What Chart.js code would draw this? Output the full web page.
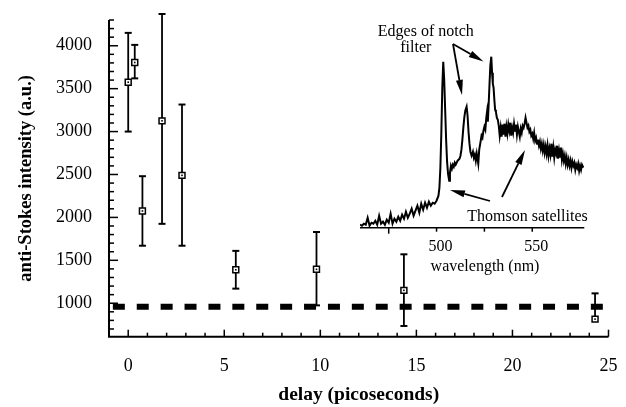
<!DOCTYPE html>
<html><head><meta charset="utf-8">
<script src="https://cdn.jsdelivr.net/npm/chart.js@4.4.0/dist/chart.umd.min.js"></script>
<style>
html,body{margin:0;padding:0;background:#fff;}
#wrap{position:relative;width:626px;height:407px;}
canvas{position:absolute;left:0;top:0;}
</style></head><body>
<div id="wrap"><canvas id="main" width="626" height="407"></canvas><canvas id="inset" width="626" height="407"></canvas></div>
<script>
// ---- main plot data ----
const delayPs   = [0.0, 0.34, 0.74, 1.76, 2.8, 5.6, 9.8, 14.35, 24.3];
const intensity = [3575, 3805, 2075, 3125, 2490, 1390, 1395, 1150, 815];
const errLow    = [3000, 3620, 1670, 1925, 1670, 1170, 975, 735, 815];
const errHigh   = [4150, 4010, 2480, 4370, 3315, 1610, 1830, 1570, 1115];
const backgroundLevel = 960;
const backgroundSpan  = [-0.8, 24.73];
const xTicks = [0, 5, 10, 15, 20, 25];
const yTicks = [1000, 1500, 2000, 2500, 3000, 3500, 4000];

// ---- inset spectrum data (wavelength nm, arbitrary counts) ----
const waveNm = [460,461,462,463,464,465,466,467,468,469,470,471,472,473,474,475,476,477,478,479,480,
481,482,483,484,485,486,487,488,489,490,491,492,493,494,495,496,497,498,499,500,
501,501.5,502,502.5,503,503.5,504,504.5,505,505.5,506,506.6,507,507.5,508,508.5,509,509.5,510,511,512,512.5,513,513.5,514,514.5,515,515.7,
516.2,516.7,517.2,517.7,518.3,519,519.5,520,520.5,521,521.8,522.3,523,523.5,524,524.5,525,525.5,526,526.4,526.8,527.2,527.7,528.1,528.6,
529,529.4,529.8,530.2,530.6,531,531.5,532,532.5,533,533.5,534,534.5,535,535.5,536,536.5,537,537.5,538,538.5,539,539.5,540,540.5,541,541.5,
542,542.5,543,543.5,544,544.5,545,545.5,546,546.5,547,547.5,548,548.5,549,549.5,550,550.5,551,551.5,552,552.5,553,553.5,554,554.5,555,555.5,
556,556.5,557,557.5,558,558.5,559,559.5,560,560.5,561,561.5,562,562.5,563,563.5,564,564.5,565,565.5,566,566.5,567,567.5,568,568.5,569,569.5,
570,570.5,571,571.5,572,572.5,573,573.5,574,574.5,575,575.5,576,576.7];
const specCounts = [3,2,4,3,10,2,5,4,7,3,12,4,6,3,8,5,14,4,9,6,11,
7,13,9,16,10,14,19,12,17,22,15,24,18,25,20,26,22,25,24,27,
32,40,60,95,140,166,148,118,88,66,54,47,55,62,59,63,61,65,63,67,69,72,78,88,100,110,117,121,
112,96,84,76,72,76,70,73,67,74,64,78,86,92,90,97,101,98,110,116,106,122,145,162,171,
155,144,140,128,118,116,110,108,102,92,100,91,103,93,104,91,101,94,103,97,105,92,100,95,104,97,103,
93,101,96,91,99,95,102,100,104,110,105,100,102,96,98,92,94,89,95,87,90,84,88,82,86,79,84,77,
83,75,81,74,82,72,79,73,84,71,80,70,78,74,82,69,77,70,80,68,74,67,72,64,70,63,68,62,
67,60,66,62,65,58,63,60,64,57,62,58,63,60];
const insetTicks  = [475, 500, 525, 550];
const insetLabels = [500, 550];

const SERIF = '"Liberation Serif", "Times New Roman", serif';

function seg(ctx, x1, y1, x2, y2){ ctx.beginPath(); ctx.moveTo(x1,y1); ctx.lineTo(x2,y2); ctx.stroke(); }
function noPad(s){ s.paddingTop = 0; s.paddingBottom = 0; s.paddingLeft = 0; s.paddingRight = 0; }

const mainAxes = {
  id: 'mainAxes',
  beforeDatasetsDraw(chart){
    const {ctx, chartArea: a, scales: {x, y}} = chart;
    ctx.save();
    ctx.strokeStyle = '#000';
    ctx.lineWidth = 2;
    ctx.beginPath(); ctx.moveTo(a.left, a.top); ctx.lineTo(a.left, a.bottom); ctx.lineTo(a.right, a.bottom); ctx.stroke();
    ctx.lineWidth = 1.5;
    for (let v = 700; v <= 4300; v += 100) {
      const py = y.getPixelForValue(v);
      seg(ctx, a.left, py, a.left + (v % 500 === 0 ? 9 : 5), py);
    }
    for (let v = 0; v <= 25; v++) {
      const px = x.getPixelForValue(v);
      seg(ctx, px, a.bottom, px, a.bottom - (v % 5 === 0 ? 7 : 4));
    }
    ctx.restore();
  },
  beforeDatasetDraw(chart, args){
    if (args.index !== 1) return;
    const {ctx, scales: {x, y}} = chart;
    ctx.save();
    ctx.strokeStyle = '#000';
    delayPs.forEach((d, i) => {
      const px = x.getPixelForValue(d);
      const pl = y.getPixelForValue(errLow[i]);
      const ph = y.getPixelForValue(errHigh[i]);
      ctx.lineWidth = 1.8;
      seg(ctx, px, pl, px, ph);
      ctx.lineWidth = 2;
      seg(ctx, px - 3.5, ph, px + 3.5, ph);
      if (errLow[i] < intensity[i]) seg(ctx, px - 3.5, pl, px + 3.5, pl);
    });
    ctx.restore();
  },
  afterDatasetDraw(chart, args){
    if (args.index !== 1) return;
    const {ctx} = chart;
    const meta = chart.getDatasetMeta(1);
    ctx.save();
    ctx.fillStyle = '#000';
    meta.data.forEach(p => ctx.fillRect(p.x - 0.8, p.y - 0.8, 1.6, 1.6));
    ctx.restore();
  }
};

new Chart(document.getElementById('main'), {
  type: 'scatter',
  data: { datasets: [
    { type: 'line', data: backgroundSpan.map(v => ({x: v, y: backgroundLevel})),
      borderColor: '#000', borderWidth: 6, borderDash: [12, 11.9], borderCapStyle: 'butt',
      pointRadius: 0, fill: false, order: 2 },
    { data: delayPs.map((v, i) => ({x: v, y: intensity[i]})),
      pointStyle: 'rect', pointRadius: 4.2, pointBorderWidth: 1.5,
      pointBackgroundColor: '#fff', pointBorderColor: '#000', order: 1 }
  ]},
  options: {
    responsive: false, animation: false, events: [],
    layout: { padding: { left: 0, top: 20, right: 17.5, bottom: 0 } },
    plugins: { legend: { display: false }, tooltip: { enabled: false } },
    scales: {
      x: {
        type: 'linear', min: -1, max: 25,
        grid: { display: false, drawTicks: false }, border: { display: false },
        afterBuildTicks: s => { s.ticks = xTicks.map(v => ({value: v})); },
        afterFit: s => { s.height = 70.3; noPad(s); },
        ticks: { color: '#000', font: { family: SERIF, size: 18 }, padding: 19, maxRotation: 0, autoSkip: false, callback: v => String(v) },
        title: { display: true, text: 'delay (picoseconds)', color: '#000',
          font: { family: SERIF, size: 19.5, weight: 'bold' }, padding: { top: 0, bottom: 0 } }
      },
      y: {
        type: 'linear', min: 610, max: 4300,
        grid: { display: false, drawTicks: false }, border: { display: false },
        afterBuildTicks: s => { s.ticks = yTicks.map(v => ({value: v})); },
        afterFit: s => { s.width = 109; noPad(s); },
        ticks: { color: '#000', font: { family: SERIF, size: 18 }, padding: 17, autoSkip: false, callback: v => String(v) },
        title: { display: true, text: 'anti-Stokes intensity (a.u.)', color: '#000',
          font: { family: SERIF, size: 18.5, weight: 'bold' }, padding: { top: 15, bottom: 0 } }
      }
    }
  },
  plugins: [mainAxes]
});

// ---- inset ----
function arrow(ctx, x1, y1, x2, y2, head, w){
  const a = Math.atan2(y2 - y1, x2 - x1);
  const bx = x2 - head * Math.cos(a), by = y2 - head * Math.sin(a);
  seg(ctx, x1, y1, bx, by);
  ctx.beginPath();
  ctx.moveTo(x2, y2);
  ctx.lineTo(bx + w * Math.sin(a), by - w * Math.cos(a));
  ctx.lineTo(bx - w * Math.sin(a), by + w * Math.cos(a));
  ctx.closePath(); ctx.fill();
}

const insetDeco = {
  id: 'insetDeco',
  afterDraw(chart){
    const {ctx, chartArea: a, scales: {x}} = chart;
    const y0 = a.bottom;
    ctx.save();
    ctx.strokeStyle = '#000'; ctx.fillStyle = '#000';
    ctx.lineWidth = 1.5;
    seg(ctx, a.left, y0, a.right, y0);
    insetTicks.forEach(t => { const px = x.getPixelForValue(t); seg(ctx, px, y0, px, y0 + (t === 475 ? 6 : 4)); });
    ctx.font = '16px ' + SERIF; ctx.textAlign = 'center'; ctx.textBaseline = 'middle';
    insetLabels.forEach(v => ctx.fillText(String(v), x.getPixelForValue(v) + 4, y0 + 19));
    ctx.fillText('wavelength (nm)', 485, y0 + 39);
    ctx.fillText('Thomson satellites', 527.5, 216.7);
    ctx.fillText('Edges of notch', 425.8, 31.7);
    ctx.fillText('filter', 415.8, 47.3);
    ctx.lineWidth = 1.8;
    arrow(ctx, 453, 44, 462, 95, 15, 3.5);
    arrow(ctx, 453, 44, 483.5, 61.5, 15, 3.5);
    arrow(ctx, 490, 201, 450, 190, 15, 3.5);
    arrow(ctx, 502, 197, 525, 150, 15, 3.5);
    ctx.restore();
  }
};

new Chart(document.getElementById('inset'), {
  type: 'line',
  data: { datasets: [{ data: waveNm.map((v, i) => ({x: v, y: specCounts[i]})),
    borderColor: '#000', borderWidth: 2, pointRadius: 0, tension: 0, fill: false }] },
  options: {
    responsive: false, animation: false, events: [],
    layout: { padding: { left: 360, right: 41.7, top: 48, bottom: 179.3 } },
    plugins: { legend: { display: false }, tooltip: { enabled: false } },
    scales: {
      x: { type: 'linear', min: 460, max: 577.2, display: false },
      y: { type: 'linear', min: 0, max: 179.7, display: false }
    }
  },
  plugins: [insetDeco]
});
</script>
</body></html>
